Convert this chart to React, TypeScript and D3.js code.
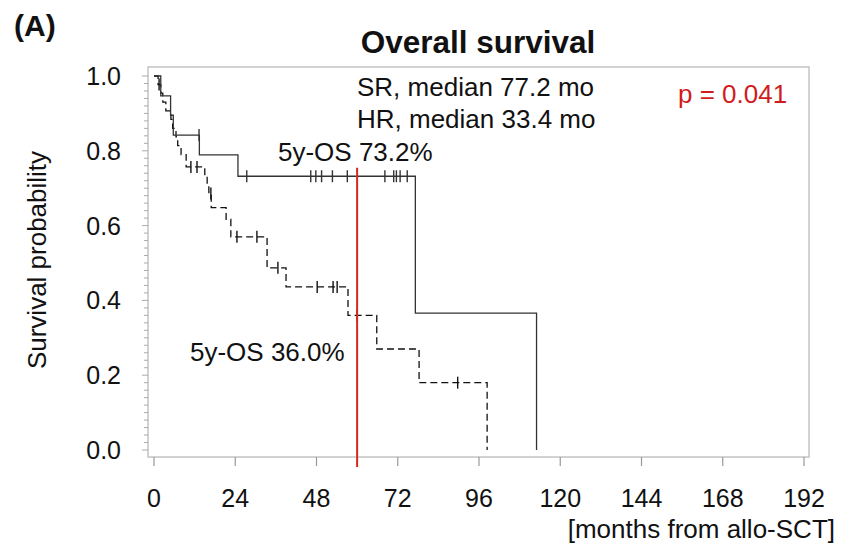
import * as d3 from 'd3';
import { useEffect, useRef } from 'react';

// Kaplan-Meier steps (months, survival)
const srTimes = [0, 2.0, 4.9, 5.7, 13.4, 24.8, 77.2, 113];
const srSurv = [1.0, 0.947, 0.895, 0.842, 0.789, 0.732, 0.366, 0.0];
const srCensor = [13.3, 27.4, 46.3, 47.8, 49.5, 52.7, 57.1, 68.2, 70.8, 71.6, 72.7, 74.8];

const hrTimes = [0, 1.2, 2.0, 2.6, 3.5, 5.0, 5.5, 6.5, 7.0, 8.0, 9.5, 15.0, 15.7, 16.2, 16.9, 21.3, 22.7, 33.4, 39.0, 57.3, 65.8, 78.3, 98.4];
const hrSurv = [1.0, 0.977, 0.954, 0.93, 0.907, 0.884, 0.86, 0.837, 0.814, 0.79, 0.757, 0.733, 0.71, 0.686, 0.648, 0.617, 0.57, 0.487, 0.436, 0.36, 0.27, 0.18, 0.0];
const hrCensor = [1.5, 10.9, 12.7, 16.8, 24.5, 30.4, 36.6, 48.2, 52.9, 54.1, 60.0, 89.7];

const xTicks = [0, 24, 48, 72, 96, 120, 144, 168, 192];
const yTicks = [0, 0.2, 0.4, 0.6, 0.8, 1.0];
const landmark = 60;

const FONT = '"Liberation Sans", Arial, sans-serif';

function survAt(times: number[], surv: number[], t: number) {
    let s = surv[0];
    for (let i = 0; i < times.length; i++) {
        if (times[i] <= t) s = surv[i];
    }
    return s;
}

export default function App() {
    const ref = useRef<SVGSVGElement>(null);

    useEffect(() => {
        if (!ref.current) return;
        const svg = d3.select(ref.current);
        svg.selectAll('*').remove();

        const x = d3.scaleLinear().domain([0, 192]).range([154, 804]);
        const y = d3.scaleLinear().domain([0, 1]).range([450, 76]);
        const frame = { left: 148, right: 809, top: 67, bottom: 457 };

        // plot frame
        svg.append('rect')
            .attr('x', frame.left).attr('y', frame.top)
            .attr('width', frame.right - frame.left).attr('height', frame.bottom - frame.top)
            .attr('fill', 'none').attr('stroke', '#c4c4c4').attr('stroke-width', 1.5);

        // y ticks, minor every 0.02
        const minor = d3.range(0, 1.0001, 0.02);
        svg.append('g').selectAll('line').data(minor).enter()
            .append('line')
            .attr('x1', (d, i) => (i % 10 === 0 ? frame.left - 6 : frame.left - 4))
            .attr('x2', frame.left)
            .attr('y1', d => y(d)).attr('y2', d => y(d))
            .attr('stroke', '#aaa').attr('stroke-width', 1);

        svg.append('g').selectAll('text').data(yTicks).enter()
            .append('text')
            .attr('x', 121).attr('y', d => y(d) + 9)
            .attr('text-anchor', 'end')
            .attr('font-family', FONT).attr('font-size', 25).attr('fill', '#111')
            .text(d => d.toFixed(1));

        // x ticks
        svg.append('g').selectAll('line').data(xTicks).enter()
            .append('line')
            .attr('x1', d => x(d)).attr('x2', d => x(d))
            .attr('y1', frame.bottom).attr('y2', frame.bottom + 9)
            .attr('stroke', '#999').attr('stroke-width', 1.2);

        svg.append('g').selectAll('text').data(xTicks).enter()
            .append('text')
            .attr('x', d => x(d)).attr('y', 507)
            .attr('text-anchor', 'middle')
            .attr('font-family', FONT).attr('font-size', 25).attr('fill', '#111')
            .text(d => d);

        const line = d3.line<[number, number]>()
            .x(d => x(d[0])).y(d => y(d[1]))
            .curve(d3.curveStepAfter);

        const srPts = srTimes.map((t, i) => [t, srSurv[i]] as [number, number]);
        const hrPts = hrTimes.map((t, i) => [t, hrSurv[i]] as [number, number]);

        svg.append('path').attr('d', line(hrPts))
            .attr('fill', 'none').attr('stroke', '#111').attr('stroke-width', 1.3)
            .attr('stroke-dasharray', '7,4');

        svg.append('path').attr('d', line(srPts))
            .attr('fill', 'none').attr('stroke', '#333').attr('stroke-width', 1.3);

        // censor marks
        svg.append('g').selectAll('line').data(srCensor).enter()
            .append('line')
            .attr('x1', d => x(d)).attr('x2', d => x(d))
            .attr('y1', d => y(survAt(srTimes, srSurv, d)) - 6)
            .attr('y2', d => y(survAt(srTimes, srSurv, d)) + 6)
            .attr('stroke', '#333').attr('stroke-width', 1.4);

        svg.append('g').selectAll('line').data(hrCensor).enter()
            .append('line')
            .attr('x1', d => x(d)).attr('x2', d => x(d))
            .attr('y1', d => y(survAt(hrTimes, hrSurv, d)) - 6)
            .attr('y2', d => y(survAt(hrTimes, hrSurv, d)) + 6)
            .attr('stroke', '#111').attr('stroke-width', 1.4);

        // 5-year landmark
        svg.append('line')
            .attr('x1', x(landmark)).attr('x2', x(landmark))
            .attr('y1', y(0.755)).attr('y2', frame.bottom + 10)
            .attr('stroke', '#d42a1e').attr('stroke-width', 2);

        const label = (tx: number, ty: number, s: string, opts: any = {}) =>
            svg.append('text')
                .attr('x', tx).attr('y', ty)
                .attr('font-family', FONT)
                .attr('font-size', opts.size || 26)
                .attr('font-weight', opts.weight || 'normal')
                .attr('text-anchor', opts.anchor || 'start')
                .attr('fill', opts.fill || '#111')
                .text(s);

        label(14, 36, '(A)', { size: 30, weight: 'bold' });
        label(478, 53, 'Overall survival', { size: 31.5, weight: 'bold', anchor: 'middle' });
        label(357, 96, 'SR, median 77.2 mo');
        label(357, 128, 'HR, median 33.4 mo');
        label(278, 161, '5y-OS 73.2%');
        label(190, 361, '5y-OS 36.0%');
        label(678, 103, 'p = 0.041', { fill: '#d01c1c' });
        label(835, 538, '[months from allo-SCT]', { anchor: 'end' });

        svg.append('text')
            .attr('transform', 'translate(46,260) rotate(-90)')
            .attr('text-anchor', 'middle')
            .attr('font-family', FONT).attr('font-size', 26).attr('fill', '#111')
            .text('Survival probability');
    }, []);

    return (
        <svg ref={ref} width={841} height={547}
            style={{ position: 'absolute', left: 0, top: 0, background: '#fff' }} />
    );
}
